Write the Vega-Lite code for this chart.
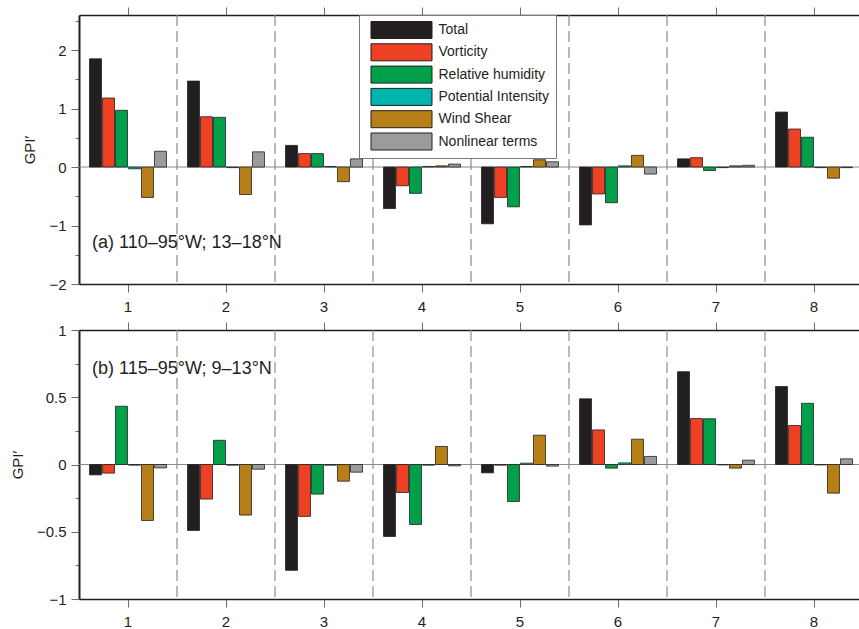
{
  "$schema": "https://vega.github.io/schema/vega-lite/v6.json",
  "padding": {"left": 10, "top": 6, "right": 0, "bottom": 0},
  "bounds": "flush",
  "spacing": 46,
  "background": "white",
  "data": {"values": [
    {"p":"a","m":1,"t":"Total","v":1.85},{"p":"a","m":1,"t":"Vorticity","v":1.18},{"p":"a","m":1,"t":"Relative humidity","v":0.97},{"p":"a","m":1,"t":"Potential Intensity","v":-0.03},{"p":"a","m":1,"t":"Wind Shear","v":-0.52},{"p":"a","m":1,"t":"Nonlinear terms","v":0.27},
    {"p":"a","m":2,"t":"Total","v":1.47},{"p":"a","m":2,"t":"Vorticity","v":0.86},{"p":"a","m":2,"t":"Relative humidity","v":0.85},{"p":"a","m":2,"t":"Potential Intensity","v":-0.01},{"p":"a","m":2,"t":"Wind Shear","v":-0.47},{"p":"a","m":2,"t":"Nonlinear terms","v":0.26},
    {"p":"a","m":3,"t":"Total","v":0.37},{"p":"a","m":3,"t":"Vorticity","v":0.23},{"p":"a","m":3,"t":"Relative humidity","v":0.23},{"p":"a","m":3,"t":"Potential Intensity","v":0.01},{"p":"a","m":3,"t":"Wind Shear","v":-0.25},{"p":"a","m":3,"t":"Nonlinear terms","v":0.14},
    {"p":"a","m":4,"t":"Total","v":-0.71},{"p":"a","m":4,"t":"Vorticity","v":-0.32},{"p":"a","m":4,"t":"Relative humidity","v":-0.45},{"p":"a","m":4,"t":"Potential Intensity","v":0.01},{"p":"a","m":4,"t":"Wind Shear","v":0.02},{"p":"a","m":4,"t":"Nonlinear terms","v":0.05},
    {"p":"a","m":5,"t":"Total","v":-0.97},{"p":"a","m":5,"t":"Vorticity","v":-0.52},{"p":"a","m":5,"t":"Relative humidity","v":-0.68},{"p":"a","m":5,"t":"Potential Intensity","v":0.01},{"p":"a","m":5,"t":"Wind Shear","v":0.125},{"p":"a","m":5,"t":"Nonlinear terms","v":0.09},
    {"p":"a","m":6,"t":"Total","v":-0.99},{"p":"a","m":6,"t":"Vorticity","v":-0.46},{"p":"a","m":6,"t":"Relative humidity","v":-0.61},{"p":"a","m":6,"t":"Potential Intensity","v":0.02},{"p":"a","m":6,"t":"Wind Shear","v":0.2},{"p":"a","m":6,"t":"Nonlinear terms","v":-0.12},
    {"p":"a","m":7,"t":"Total","v":0.14},{"p":"a","m":7,"t":"Vorticity","v":0.16},{"p":"a","m":7,"t":"Relative humidity","v":-0.06},{"p":"a","m":7,"t":"Potential Intensity","v":-0.01},{"p":"a","m":7,"t":"Wind Shear","v":0.02},{"p":"a","m":7,"t":"Nonlinear terms","v":0.03},
    {"p":"a","m":8,"t":"Total","v":0.94},{"p":"a","m":8,"t":"Vorticity","v":0.65},{"p":"a","m":8,"t":"Relative humidity","v":0.51},{"p":"a","m":8,"t":"Potential Intensity","v":-0.01},{"p":"a","m":8,"t":"Wind Shear","v":-0.19},{"p":"a","m":8,"t":"Nonlinear terms","v":-0.01},
    {"p":"b","m":1,"t":"Total","v":-0.077},{"p":"b","m":1,"t":"Vorticity","v":-0.064},{"p":"b","m":1,"t":"Relative humidity","v":0.433},{"p":"b","m":1,"t":"Potential Intensity","v":-0.005},{"p":"b","m":1,"t":"Wind Shear","v":-0.416},{"p":"b","m":1,"t":"Nonlinear terms","v":-0.025},
    {"p":"b","m":2,"t":"Total","v":-0.49},{"p":"b","m":2,"t":"Vorticity","v":-0.257},{"p":"b","m":2,"t":"Relative humidity","v":0.18},{"p":"b","m":2,"t":"Potential Intensity","v":-0.005},{"p":"b","m":2,"t":"Wind Shear","v":-0.376},{"p":"b","m":2,"t":"Nonlinear terms","v":-0.035},
    {"p":"b","m":3,"t":"Total","v":-0.787},{"p":"b","m":3,"t":"Vorticity","v":-0.386},{"p":"b","m":3,"t":"Relative humidity","v":-0.22},{"p":"b","m":3,"t":"Potential Intensity","v":-0.005},{"p":"b","m":3,"t":"Wind Shear","v":-0.124},{"p":"b","m":3,"t":"Nonlinear terms","v":-0.057},
    {"p":"b","m":4,"t":"Total","v":-0.535},{"p":"b","m":4,"t":"Vorticity","v":-0.208},{"p":"b","m":4,"t":"Relative humidity","v":-0.446},{"p":"b","m":4,"t":"Potential Intensity","v":-0.005},{"p":"b","m":4,"t":"Wind Shear","v":0.134},{"p":"b","m":4,"t":"Nonlinear terms","v":-0.01},
    {"p":"b","m":5,"t":"Total","v":-0.062},{"p":"b","m":5,"t":"Vorticity","v":-0.005},{"p":"b","m":5,"t":"Relative humidity","v":-0.275},{"p":"b","m":5,"t":"Potential Intensity","v":0.01},{"p":"b","m":5,"t":"Wind Shear","v":0.218},{"p":"b","m":5,"t":"Nonlinear terms","v":-0.012},
    {"p":"b","m":6,"t":"Total","v":0.488},{"p":"b","m":6,"t":"Vorticity","v":0.257},{"p":"b","m":6,"t":"Relative humidity","v":-0.027},{"p":"b","m":6,"t":"Potential Intensity","v":0.012},{"p":"b","m":6,"t":"Wind Shear","v":0.188},{"p":"b","m":6,"t":"Nonlinear terms","v":0.06},
    {"p":"b","m":7,"t":"Total","v":0.69},{"p":"b","m":7,"t":"Vorticity","v":0.342},{"p":"b","m":7,"t":"Relative humidity","v":0.34},{"p":"b","m":7,"t":"Potential Intensity","v":-0.003},{"p":"b","m":7,"t":"Wind Shear","v":-0.027},{"p":"b","m":7,"t":"Nonlinear terms","v":0.032},
    {"p":"b","m":8,"t":"Total","v":0.58},{"p":"b","m":8,"t":"Vorticity","v":0.29},{"p":"b","m":8,"t":"Relative humidity","v":0.455},{"p":"b","m":8,"t":"Potential Intensity","v":-0.003},{"p":"b","m":8,"t":"Wind Shear","v":-0.213},{"p":"b","m":8,"t":"Nonlinear terms","v":0.042}
  ]},
  "resolve": {"legend": {"color": "independent"}},
  "vconcat": [
    {
      "width": 784,
      "height": 269,
      "transform": [{"filter": "datum.p == 'a'"}],
      "resolve": {"axis": {"x": "independent", "y": "independent"}},
      "layer": [
        {
          "transform": [{"filter": "datum.t == 'Total' && datum.m >= 2"}],
          "mark": {"type": "rule", "color": "#8c8c8c", "strokeWidth": 1.2, "strokeDash": [11, 5]},
          "encoding": {
            "x": {"field": "m", "type": "ordinal", "bandPosition": 0,
                  "scale": {"paddingInner": 0, "paddingOuter": 0},
                  "axis": {"orient": "top", "labels": false, "title": null, "tickSize": 8, "domainWidth": 1.5}}
          }
        },
        {
          "transform": [{"filter": "datum.t == 'Total' && datum.m == 1"}],
          "mark": {"type": "rule", "color": "#8a8a8a", "strokeWidth": 1},
          "encoding": {
            "y": {"datum": 0, "type": "quantitative",
                  "axis": {"orient": "left", "values": [-1.5, -0.5, 0.5, 1.5, 2.5], "labels": false, "domain": false, "tickSize": 4, "title": null}}
          }
        },
        {
          "mark": {"type": "bar", "stroke": "#231f20", "strokeWidth": 0.8},
          "encoding": {
            "x": {"field": "m", "type": "ordinal",
                  "axis": {"orient": "bottom", "labelAngle": 0, "title": null, "tickSize": 8, "labelPadding": 7, "domainWidth": 1.5}},
            "xOffset": {"field": "t", "type": "nominal",
                        "scale": {"domain": ["Total", "Vorticity", "Relative humidity", "Potential Intensity", "Wind Shear", "Nonlinear terms"], "paddingInner": 0.077, "paddingOuter": 0.81}},
            "y": {"field": "v", "type": "quantitative",
                  "scale": {"domain": [-2, 2.6], "nice": false, "zero": false},
                  "axis": {"orient": "left", "values": [-2, -1, 0, 1, 2], "format": "~g", "tickSize": 8, "labelPadding": 5, "domainWidth": 2, "title": "GPI′", "titlePadding": 11}},
            "color": {"field": "t", "type": "nominal",
                      "scale": {"domain": ["Total", "Vorticity", "Relative humidity", "Potential Intensity", "Wind Shear", "Nonlinear terms"],
                                "range": ["#231f20", "#ee4023", "#00a04b", "#00b5ad", "#b77f18", "#9b9b9b"]},
                      "legend": {"orient": "none", "legendX": 280, "legendY": 0, "title": null,
                                 "symbolType": "M-3.59,-1H3.59V1H-3.59Z", "symbolSize": 289,
                                 "symbolStrokeColor": "#231f20", "symbolStrokeWidth": 1, "symbolOpacity": 1,
                                 "symbolOffset": 27.5, "labelOffset": 28,
                                 "labelFont": "Liberation Sans", "labelFontSize": 14, "labelColor": "#231f20",
                                 "rowPadding": 0.3, "padding": 6,
                                 "strokeColor": "#7a7a7a", "fillColor": "white"}}
          }
        },
        {
          "transform": [{"filter": "datum.t == 'Total' && datum.m == 1"}],
          "mark": {"type": "text", "align": "left", "baseline": "middle", "dx": 13, "font": "Liberation Sans", "fontSize": 18, "color": "#231f20"},
          "encoding": {
            "x": {"datum": 1, "type": "ordinal", "bandPosition": 0, "axis": null},
            "y": {"datum": -1.3, "type": "quantitative", "axis": null},
            "text": {"value": "(a) 110–95°W; 13–18°N"}
          }
        }
      ]
    },
    {
      "width": 784,
      "height": 269,
      "transform": [{"filter": "datum.p == 'b'"}],
      "resolve": {"axis": {"x": "independent", "y": "independent"}},
      "layer": [
        {
          "transform": [{"filter": "datum.t == 'Total' && datum.m >= 2"}],
          "mark": {"type": "rule", "color": "#8c8c8c", "strokeWidth": 1.2, "strokeDash": [11, 5]},
          "encoding": {
            "x": {"field": "m", "type": "ordinal", "bandPosition": 0,
                  "scale": {"paddingInner": 0, "paddingOuter": 0},
                  "axis": {"orient": "top", "labels": false, "title": null, "tickSize": 8, "domainWidth": 1.5}}
          }
        },
        {
          "transform": [{"filter": "datum.t == 'Total' && datum.m == 1"}],
          "mark": {"type": "rule", "color": "#8a8a8a", "strokeWidth": 1},
          "encoding": {
            "y": {"datum": 0, "type": "quantitative",
                  "axis": {"orient": "left", "values": [-0.75, -0.25, 0.25, 0.75], "labels": false, "domain": false, "tickSize": 4, "title": null}}
          }
        },
        {
          "mark": {"type": "bar", "stroke": "#231f20", "strokeWidth": 0.8},
          "encoding": {
            "x": {"field": "m", "type": "ordinal",
                  "axis": {"orient": "bottom", "labelAngle": 0, "title": null, "tickSize": 8, "labelPadding": 7, "domainWidth": 1.5}},
            "xOffset": {"field": "t", "type": "nominal",
                        "scale": {"domain": ["Total", "Vorticity", "Relative humidity", "Potential Intensity", "Wind Shear", "Nonlinear terms"], "paddingInner": 0.077, "paddingOuter": 0.81}},
            "y": {"field": "v", "type": "quantitative",
                  "scale": {"domain": [-1, 1], "nice": false, "zero": false},
                  "axis": {"orient": "left", "values": [-1, -0.5, 0, 0.5, 1], "format": "~g", "tickSize": 8, "labelPadding": 5, "domainWidth": 2, "title": "GPI′", "titlePadding": 11}},
            "color": {"field": "t", "type": "nominal",
                      "scale": {"domain": ["Total", "Vorticity", "Relative humidity", "Potential Intensity", "Wind Shear", "Nonlinear terms"],
                                "range": ["#231f20", "#ee4023", "#00a04b", "#00b5ad", "#b77f18", "#9b9b9b"]},
                      "legend": null}
          }
        },
        {
          "transform": [{"filter": "datum.t == 'Total' && datum.m == 1"}],
          "mark": {"type": "text", "align": "left", "baseline": "middle", "dx": 13, "font": "Liberation Sans", "fontSize": 18, "color": "#231f20"},
          "encoding": {
            "x": {"datum": 1, "type": "ordinal", "bandPosition": 0, "axis": null},
            "y": {"datum": 0.71, "type": "quantitative", "axis": null},
            "text": {"value": "(b) 115–95°W; 9–13°N"}
          }
        }
      ]
    }
  ],
  "config": {
    "view": {"stroke": null},
    "axis": {"grid": false, "labelFont": "Liberation Sans", "labelFontSize": 15, "labelColor": "#231f20",
             "tickColor": "#6e6e6e", "tickWidth": 1, "domainColor": "#231f20",
             "titleFont": "Liberation Sans", "titleFontSize": 15, "titleFontWeight": "normal", "titleColor": "#231f20"}
  }
}
